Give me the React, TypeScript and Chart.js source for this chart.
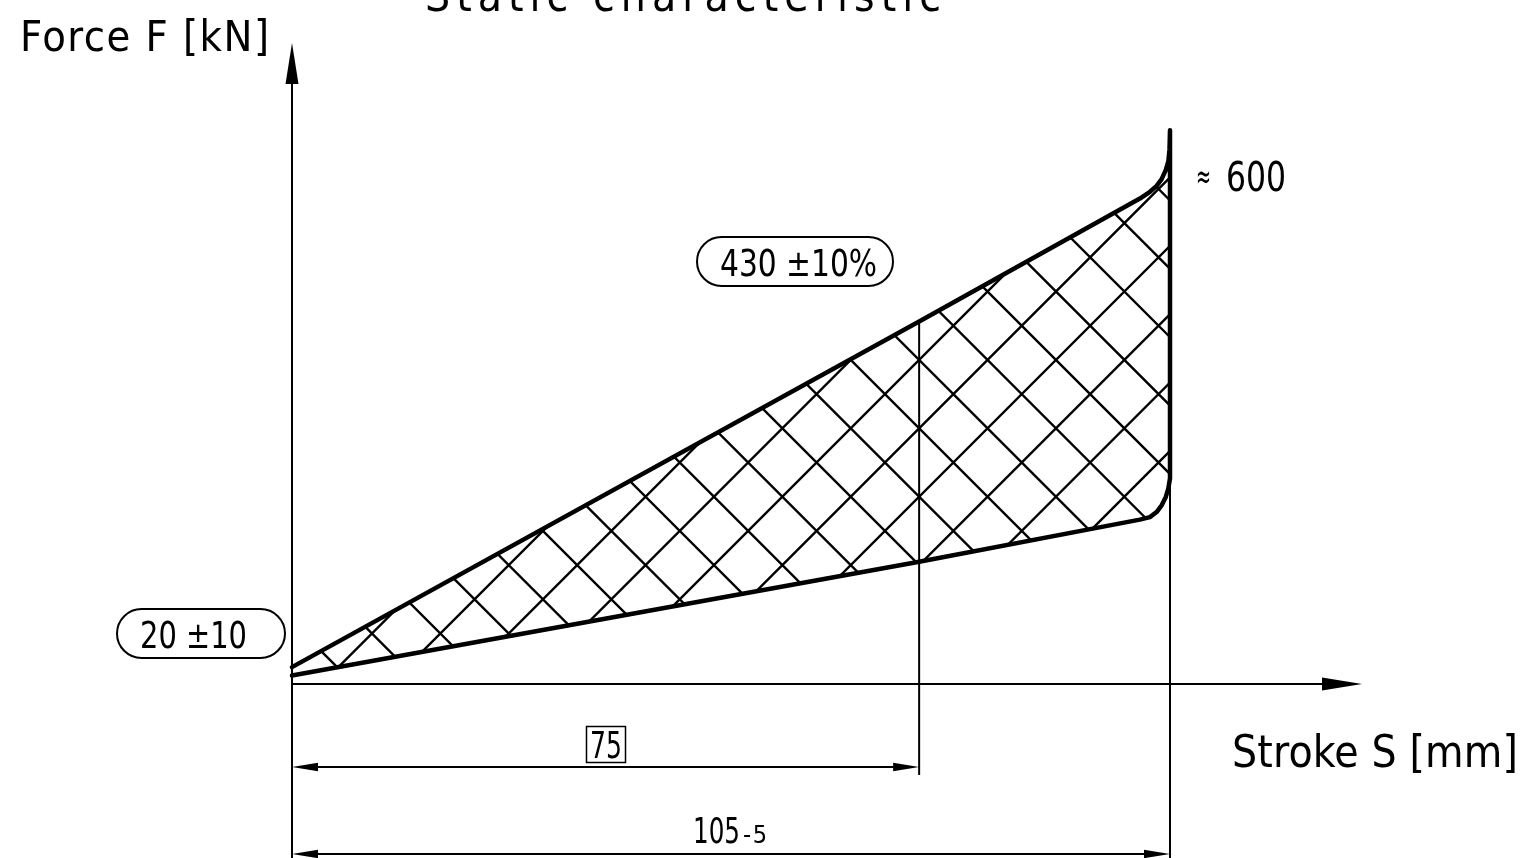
import { useEffect, useRef } from "react";
import { Chart, registerables } from "chart.js";

Chart.register(...registerables);

// ---- data ----
const upperStroke = [0, 75, 101.4, 102.6, 103.4, 104.0, 104.5, 104.8, 104.94, 105];
const upperForce = [20, 430, 576, 584, 591, 599, 610, 620, 634, 657];
const lowerStroke = [0, 75, 101.4, 102.6, 103.4, 104.0, 104.5, 104.8, 105];
const lowerForce = [10, 145, 195, 198, 204, 212, 222, 232, 244];

const dimensionStrokes = [75, 105];
const dimensionLabels = ["75", "105"];
const dimensionTolerance = "-5";
const startForceLabel = "20 ±10";
const midForceLabel = "430 ±10%";
const peakForceLabel = "600";
const chartTitle = "Static characteristic";
const xAxisTitle = "Stroke S [mm]";
const yAxisTitle = "Force F [kN]";

const FONT = '"DejaVu Sans Condensed", "DejaVu Sans", sans-serif';

function fitText(
  ctx: CanvasRenderingContext2D,
  text: string,
  left: number,
  baseline: number,
  size: number,
  width: number
) {
  ctx.save();
  ctx.font = `${size}px ${FONT}`;
  ctx.textAlign = "left";
  ctx.textBaseline = "alphabetic";
  ctx.fillStyle = "#000";
  const w = ctx.measureText(text).width;
  if (w > width) {
    ctx.fillText(text, left, baseline, width);
  } else {
    if (text.length > 1) (ctx as any).letterSpacing = `${(width - w) / (text.length - 1)}px`;
    ctx.fillText(text, left, baseline);
  }
  ctx.restore();
}

function arrowHead(
  ctx: CanvasRenderingContext2D,
  tipX: number,
  tipY: number,
  dx: number,
  dy: number,
  len: number,
  half: number
) {
  const bx = tipX - dx * len;
  const by = tipY - dy * len;
  ctx.beginPath();
  ctx.moveTo(tipX, tipY);
  ctx.lineTo(bx - dy * half, by + dx * half);
  ctx.lineTo(bx + dy * half, by - dx * half);
  ctx.closePath();
  ctx.fill();
}

function line(ctx: CanvasRenderingContext2D, x1: number, y1: number, x2: number, y2: number) {
  ctx.beginPath();
  ctx.moveTo(x1, y1);
  ctx.lineTo(x2, y2);
  ctx.stroke();
}

function pill(ctx: CanvasRenderingContext2D, l: number, t: number, r: number, b: number) {
  const rad = (b - t) / 2;
  ctx.beginPath();
  ctx.moveTo(l + rad, t);
  ctx.lineTo(r - rad, t);
  ctx.arc(r - rad, t + rad, rad, -Math.PI / 2, Math.PI / 2);
  ctx.lineTo(l + rad, b);
  ctx.arc(l + rad, t + rad, rad, Math.PI / 2, (3 * Math.PI) / 2);
  ctx.closePath();
  ctx.stroke();
}

const hatchPlugin = {
  id: "hatch",
  beforeDatasetsDraw(chart: any) {
    const ctx: CanvasRenderingContext2D = chart.ctx;
    const pts = chart.getDatasetMeta(0).data;
    if (!pts.length) return;
    const xs = chart.scales.x;
    ctx.save();
    ctx.beginPath();
    pts.forEach((p: any, i: number) => (i ? ctx.lineTo(p.x, p.y) : ctx.moveTo(p.x, p.y)));
    ctx.closePath();
    ctx.clip();
    ctx.strokeStyle = "#000";
    ctx.lineWidth = 2.4;
    const ax = xs.getPixelForValue(dimensionStrokes[0]);
    const ay = 428.3;
    const p = 68.4;
    ctx.beginPath();
    for (let k = -40; k <= 40; k++) {
      const c = ax + ay + k * p;
      ctx.moveTo(c, 0);
      ctx.lineTo(c - 900, 900);
      const d = ax - ay + k * p;
      ctx.moveTo(d, 0);
      ctx.lineTo(d + 900, 900);
    }
    ctx.stroke();
    ctx.restore();
  },
};

const annotationPlugin = {
  id: "annotations",
  afterDatasetsDraw(chart: any) {
    const ctx: CanvasRenderingContext2D = chart.ctx;
    const xs = chart.scales.x;
    const ys = chart.scales.y;
    const x0 = xs.getPixelForValue(0);
    const y0 = ys.getPixelForValue(0);
    const xA = xs.getPixelForValue(dimensionStrokes[0]);
    const xB = xs.getPixelForValue(dimensionStrokes[1]);
    const yUpperA = ys.getPixelForValue(upperForce[1]);
    const yLowerEnd = ys.getPixelForValue(lowerForce[lowerForce.length - 1]);
    const bottom = chart.height;

    ctx.save();
    ctx.strokeStyle = "#000";
    ctx.fillStyle = "#000";
    ctx.lineWidth = 2;

    // y axis with arrow (extends down as extension line)
    line(ctx, x0, 80, x0, bottom);
    arrowHead(ctx, x0, 43, 0, -1, 41, 6.5);
    // x axis with arrow
    line(ctx, x0, y0, 1325, y0);
    arrowHead(ctx, 1362, y0, 1, 0, 40, 6.5);

    // extension lines
    line(ctx, xA, yUpperA, xA, 775);
    line(ctx, xB, yLowerEnd, xB, bottom);

    // dimension lines
    const dimY1 = 767;
    const dimY2 = 854;
    line(ctx, x0 + 20, dimY1, xA - 20, dimY1);
    arrowHead(ctx, x0, dimY1, -1, 0, 26, 4.2);
    arrowHead(ctx, xA, dimY1, 1, 0, 26, 4.2);
    line(ctx, x0 + 20, dimY2, xB - 20, dimY2);
    arrowHead(ctx, x0, dimY2, -1, 0, 26, 4.2);
    arrowHead(ctx, xB, dimY2, 1, 0, 26, 4.2);

    // boxed 75
    ctx.lineWidth = 1.5;
    ctx.strokeRect(586.5, 726.5, 39, 36);
    fitText(ctx, dimensionLabels[0], 590, 758, 38, 32);

    // 105 -5
    fitText(ctx, dimensionLabels[1], 693, 843, 36, 47);
    fitText(ctx, dimensionTolerance, 743, 843, 25, 24);

    // pills
    ctx.lineWidth = 2;
    pill(ctx, 697, 237, 893, 286);
    fitText(ctx, midForceLabel, 720, 276, 37, 157);
    pill(ctx, 117, 609, 285, 658);
    fitText(ctx, startForceLabel, 140, 648, 37, 107);

    // ≈ 600
    fitText(ctx, "≈", 1196, 188, 34, 15);
    fitText(ctx, peakForceLabel, 1226, 191, 40, 60);

    // titles
    fitText(ctx, yAxisTitle, 20, 51, 43, 249);
    fitText(ctx, xAxisTitle, 1232, 767, 44, 286);
    fitText(ctx, chartTitle, 425, 11, 44, 516);

    ctx.restore();
  },
};

export default function App() {
  const canvasRef = useRef<HTMLCanvasElement | null>(null);

  useEffect(() => {
    const canvas = canvasRef.current;
    if (!canvas) return;
    const outline = [
      ...upperStroke.map((s, i) => ({ x: s, y: upperForce[i] })),
      ...lowerStroke.map((s, i) => ({ x: s, y: lowerForce[i] })).reverse(),
    ];
    const chart = new Chart(canvas, {
      type: "scatter",
      data: {
        datasets: [
          {
            data: outline,
            showLine: true,
            borderColor: "#000",
            borderWidth: 4.5,
            borderJoinStyle: "round",
            borderCapStyle: "round",
            pointRadius: 0,
            fill: false,
            tension: 0,
            clip: false,
          } as any,
        ],
      },
      options: {
        animation: false,
        responsive: false,
        devicePixelRatio: 1,
        layout: { padding: { left: 292, right: 354, top: 94, bottom: 174 } },
        scales: {
          x: { type: "linear", min: 0, max: 105, display: false },
          y: { type: "linear", min: 0, max: 700, display: false },
        },
        plugins: {
          legend: { display: false },
          tooltip: { enabled: false },
          title: { display: false },
        },
        events: [],
      },
      plugins: [hatchPlugin, annotationPlugin],
    });
    return () => chart.destroy();
  }, []);

  return (
    <div style={{ position: "fixed", left: 0, top: 0, width: 1524, height: 858, background: "#fff" }}>
      <canvas ref={canvasRef} width={1524} height={858} style={{ display: "block" }} />
    </div>
  );
}
